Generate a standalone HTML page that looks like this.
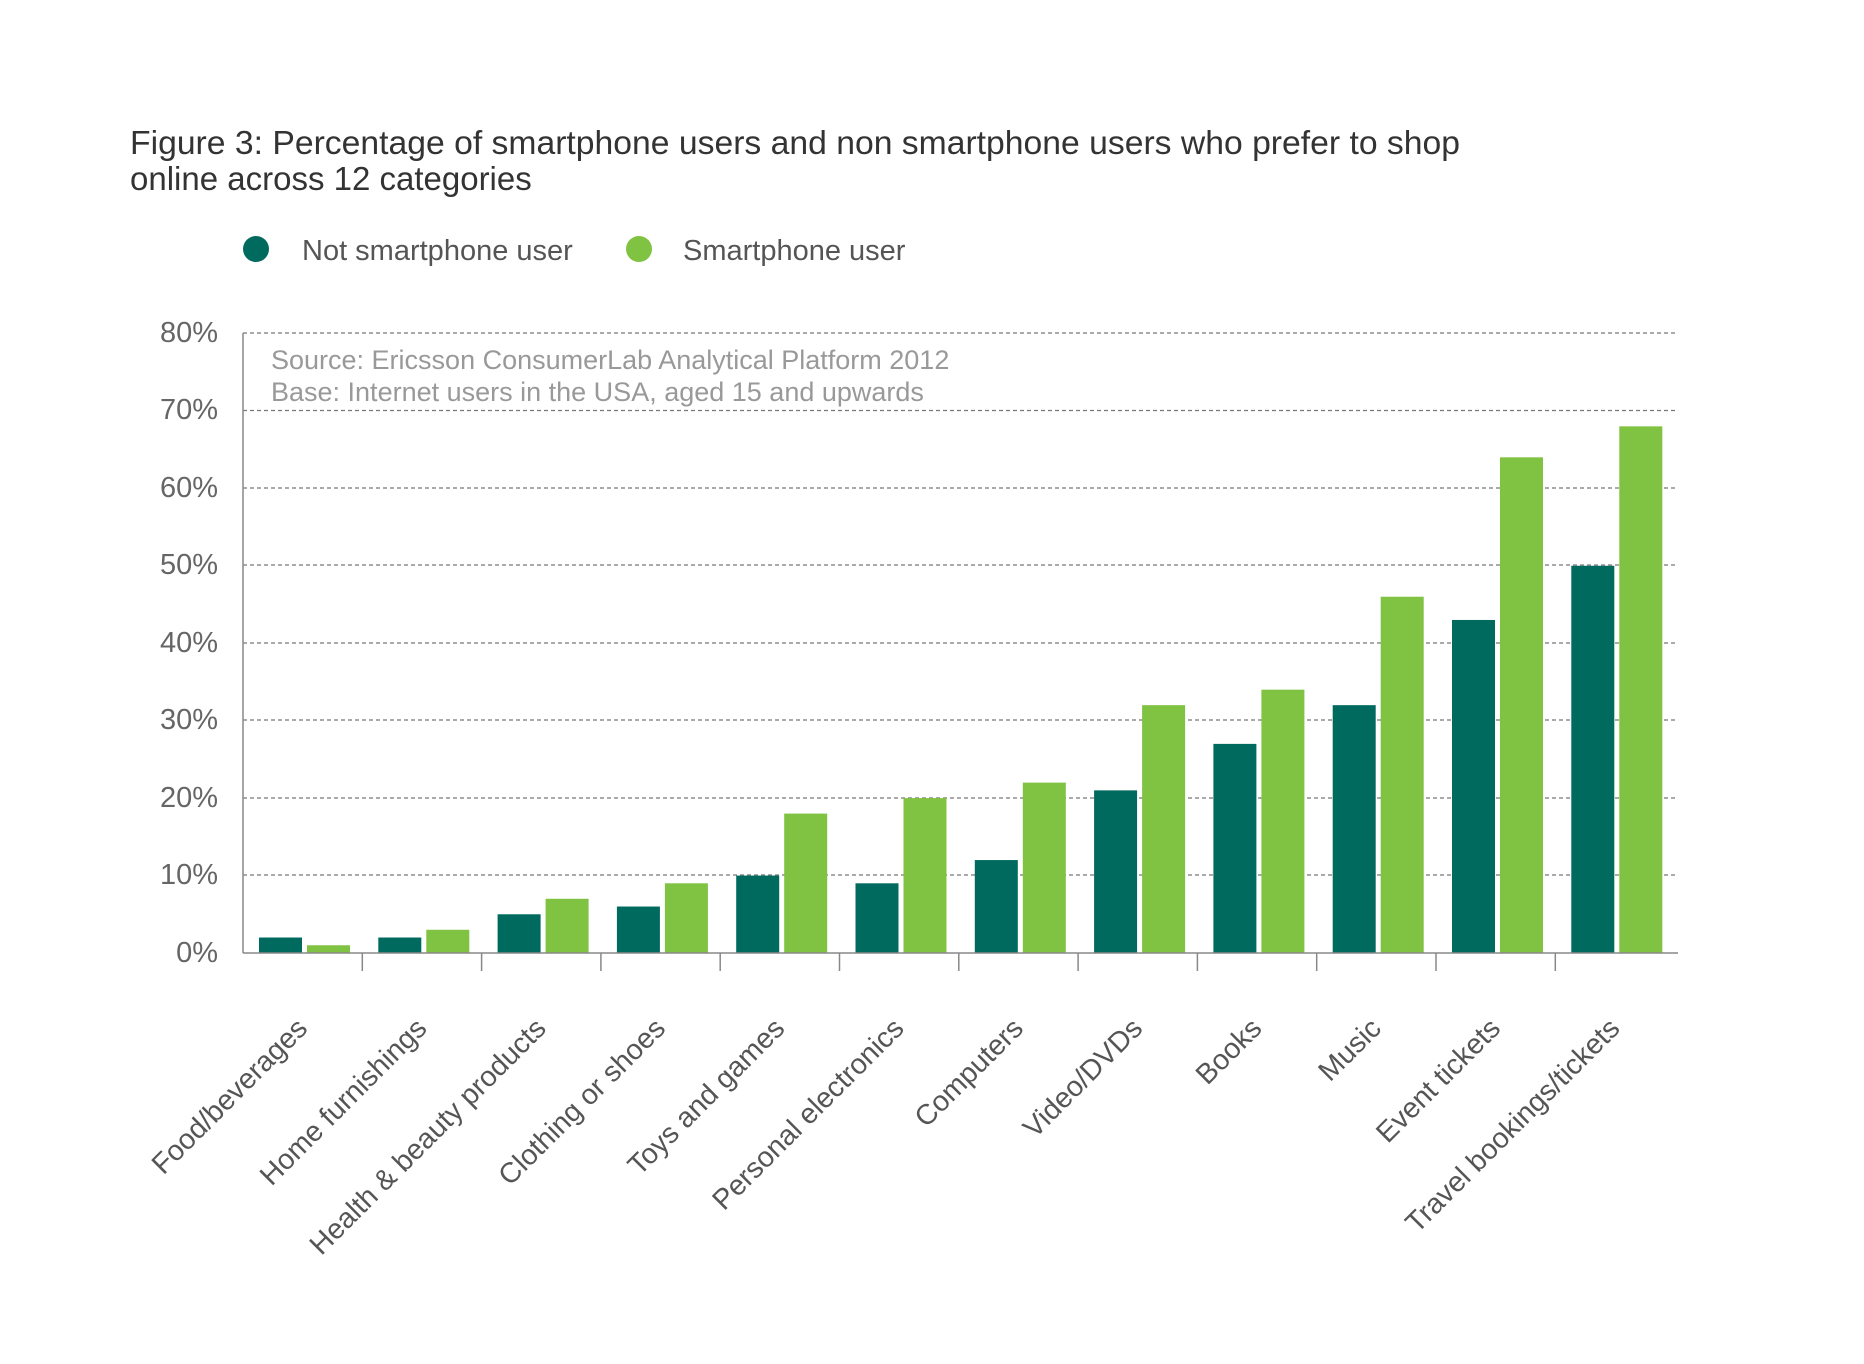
<!DOCTYPE html>
<html><head><meta charset="utf-8"><style>
html,body{margin:0;padding:0;background:#fff;}
svg{display:block;font-family:"Liberation Sans",Arial,sans-serif;}
</style></head><body>
<svg width="1864" height="1364" viewBox="0 0 1864 1364" xmlns="http://www.w3.org/2000/svg">
<text x="130" y="154" font-size="33" fill="#333" textLength="1330" lengthAdjust="spacingAndGlyphs">Figure 3: Percentage of smartphone users and non smartphone users who prefer to shop</text>
<text x="130" y="190" font-size="33" fill="#333">online across 12 categories</text>
<circle cx="256" cy="249" r="13" fill="#006a5f"/>
<text x="302" y="260" font-size="29" fill="#555">Not smartphone user</text>
<circle cx="639" cy="249" r="13" fill="#80c242"/>
<text x="683" y="260" font-size="29" fill="#555">Smartphone user</text>
<g stroke="#777" stroke-width="1.3" stroke-dasharray="4 3">
<line x1="243" y1="333" x2="1675" y2="333"/>
<line x1="243" y1="410.5" x2="1675" y2="410.5"/>
<line x1="243" y1="488" x2="1675" y2="488"/>
<line x1="243" y1="565" x2="1675" y2="565"/>
<line x1="243" y1="643" x2="1675" y2="643"/>
<line x1="243" y1="720" x2="1675" y2="720"/>
<line x1="243" y1="798" x2="1675" y2="798"/>
<line x1="243" y1="875" x2="1675" y2="875"/>
</g>
<g font-size="29" fill="#666" text-anchor="end">
<text x="218" y="342">80%</text><text x="218" y="419">70%</text><text x="218" y="497">60%</text>
<text x="218" y="574">50%</text><text x="218" y="652">40%</text><text x="218" y="729">30%</text>
<text x="218" y="807">20%</text><text x="218" y="884">10%</text><text x="218" y="962">0%</text>
</g>
<text x="271" y="369" font-size="27" fill="#999">Source: Ericsson ConsumerLab Analytical Platform 2012</text>
<text x="271" y="401" font-size="27" fill="#999">Base: Internet users in the USA, aged 15 and upwards</text>
<g id="bars"></g>
<line x1="243" y1="333" x2="243" y2="953" stroke="#888" stroke-width="1.5"/>
<line x1="243" y1="953" x2="1678" y2="953" stroke="#888" stroke-width="1.5"/>
<g id="ticks" stroke="#888" stroke-width="1.5"></g>
<g id="labels" font-size="28.5" fill="#555" text-anchor="end"></g>
</svg>
<script>
var d=[2,2,5,6,10,9,12,21,27,32,43,50],l=[1,3,7,9,18,20,22,32,34,46,64,68];
var names=["Food/beverages","Home furnishings","Health & beauty products","Clothing or shoes","Toys and games","Personal electronics","Computers","Video/DVDs","Books","Music","Event tickets","Travel bookings/tickets"];
var ns="http://www.w3.org/2000/svg",b=document.getElementById("bars"),t=document.getElementById("ticks"),lb=document.getElementById("labels");
function r(x,v,c){var e=document.createElementNS(ns,"rect");var h=v*7.745;e.setAttribute("x",x);e.setAttribute("y",953-h);e.setAttribute("width",43);e.setAttribute("height",h);e.setAttribute("fill",c);b.appendChild(e);}
for(var i=0;i<12;i++){var x0=243+i*119.3;r(x0+16,d[i],"#006a5f");r(x0+64,l[i],"#80c242");
if(i>0){var k=document.createElementNS(ns,"line");k.setAttribute("x1",x0);k.setAttribute("x2",x0);k.setAttribute("y1",953);k.setAttribute("y2",971);t.appendChild(k);}
var tx=document.createElementNS(ns,"text");var cx=x0+66,cy=1030;tx.setAttribute("x",cx);tx.setAttribute("y",cy);tx.setAttribute("transform","rotate(-45 "+cx+" "+cy+")");tx.textContent=names[i];lb.appendChild(tx);}
</script>
</body></html>
